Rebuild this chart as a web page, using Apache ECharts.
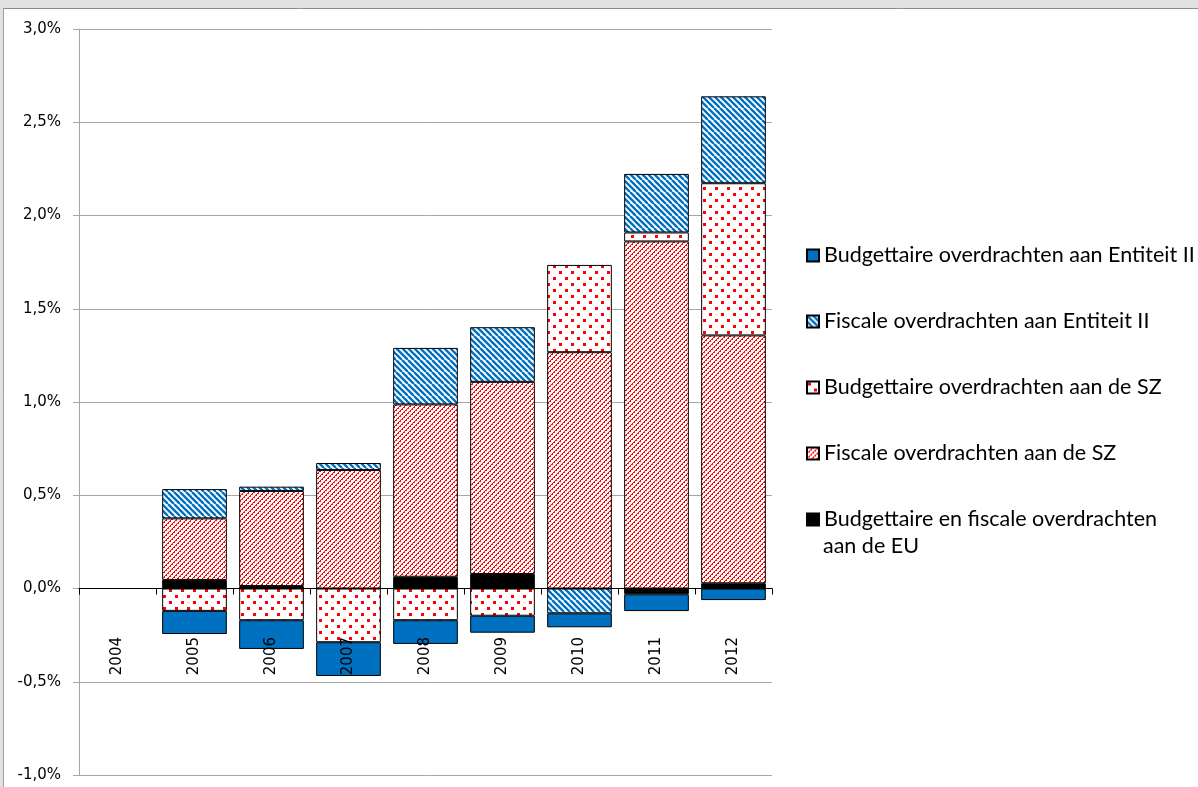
<!DOCTYPE html>
<html>
<head>
<meta charset="utf-8">
<script src="https://cdn.jsdelivr.net/npm/echarts@6/dist/echarts.min.js"></script>
<style>
html,body{margin:0;padding:0;background:#fff;}
#chart{width:1198px;height:787px;}
</style>
</head>
<body>
<div id="chart"></div>
<script>
// ---- data (% of GDP) ----
const years = ['2004','2005','2006','2007','2008','2009','2010','2011','2012'];
const euTransfers      = [null, 0.046, 0.013, null, 0.063, 0.078, null, -0.031, 0.028];
const fiscalSZ         = [null, 0.330, 0.510, 0.635, 0.924, 1.030, 1.267, 1.861, 1.329];
const budgetSZ         = [null, -0.120, -0.170, -0.288, -0.170, -0.146, 0.468, 0.048, 0.816];
const fiscalEntity2    = [null, 0.157, 0.023, 0.038, 0.303, 0.293, -0.133, 0.314, 0.466];
const budgetEntity2    = [null, -0.124, -0.154, -0.181, -0.127, -0.091, -0.075, -0.090, -0.062];
const yTicks = { min: -1, max: 3, interval: 0.5 };

const names = {
  eu: 'Budgettaire en fiscale overdrachten aan de EU',
  fsz: 'Fiscale overdrachten aan de SZ',
  bsz: 'Budgettaire overdrachten aan de SZ',
  fe2: 'Fiscale overdrachten aan Entiteit II',
  be2: 'Budgettaire overdrachten aan Entiteit II'
};

// ---- patterns ----
function tile(size, draw) {
  const c = document.createElement('canvas');
  c.width = size; c.height = size;
  const g = c.getContext('2d');
  g.fillStyle = '#fff'; g.fillRect(0, 0, size, size);
  draw(g, size);
  return { image: c, repeat: 'repeat' };
}
const redHatch = tile(10, (g, S) => {
  g.fillStyle = '#ff0000';
  for (let x = 0; x < S; x++) {
    for (let y = 0; y < S; y++) {
      const d = (x + y) % 5;
      if (d === 0 || (d === 1 && x % 2 === 0)) g.fillRect(x, y, 1, 1);
    }
  }
});
const redDots = tile(12, (g, S) => {
  g.fillStyle = '#ff0000';
  g.fillRect(1, 1, 3, 3);
  g.fillRect(7, 7, 3, 3);
});
const blueHatch = tile(12, (g, S) => {
  g.strokeStyle = '#0070c0'; g.lineWidth = 2.4;
  for (let x0 = -S; x0 <= S; x0 += 6) {
    g.beginPath(); g.moveTo(x0, 0); g.lineTo(x0 + S, S); g.stroke();
  }
});

const chart = echarts.init(document.getElementById('chart'));
const border = { borderColor: '#000', borderWidth: 1 };
function bar(name, data, color) {
  return {
    name, type: 'bar', stack: 'total', data,
    barCategoryGap: '16%',
    itemStyle: Object.assign({ color }, border),
    emphasis: { disabled: true }
  };
}

chart.setOption({
  animation: false,
  backgroundColor: '#fff',
  grid: { left: 79, right: 426, top: 29, bottom: 12, containLabel: false, outerBoundsMode: 'none' },
  xAxis: {
    type: 'category', data: years, z: 10,
    axisLine: { onZero: true, lineStyle: { color: '#000', width: 1 } },
    axisTick: { show: true, length: 6, lineStyle: { color: '#000' } },
    axisLabel: { rotate: 90, margin: -138, color: '#000', fontFamily: 'DejaVu Sans', fontSize: 15 }
  },
  yAxis: {
    type: 'value', min: yTicks.min, max: yTicks.max, interval: yTicks.interval,
    axisLine: { show: true, lineStyle: { color: '#a6a6a6' } },
    axisTick: { show: true, length: 6, lineStyle: { color: '#a6a6a6' } },
    splitLine: { show: true, lineStyle: { color: '#a6a6a6' } },
    axisLabel: {
      margin: 18, color: '#000', fontFamily: 'DejaVu Sans', fontSize: 15,
      formatter: v => v.toFixed(1).replace('.', ',') + '%'
    }
  },
  legend: {
    orient: 'vertical', left: 806, top: 244, padding: 0,
    itemWidth: 12, itemHeight: 12, itemGap: 43, selectedMode: false,
    icon: 'rect',
    textStyle: { fontFamily: 'Lato', fontSize: 21.5, lineHeight: 23, color: '#000' },
    data: [names.be2, names.fe2, names.bsz, names.fsz, names.eu],
    formatter: n => n === names.eu ? 'Budgettaire en fiscale overdrachten' : n
  },
  graphic: [
    { type: 'text', left: 823, top: 535, style: { text: 'aan de EU', font: '21.5px Lato', fill: '#000' } },
    { type: 'rect', shape: { x: 0, y: 0, width: 1198, height: 8 }, style: { fill: '#e1e1e1' } },
    { type: 'line', shape: { x1: 0, y1: 8.5, x2: 1198, y2: 8.5 }, style: { stroke: '#8c8c8c', lineWidth: 1 } },
    { type: 'rect', shape: { x: 0, y: 0, width: 3, height: 787 }, style: { fill: '#e1e1e1' } },
    { type: 'line', shape: { x1: 3.5, y1: 8, x2: 3.5, y2: 787 }, style: { stroke: '#a0a0a0', lineWidth: 1 } }
  ],
  series: [
    bar(names.eu, euTransfers, '#000'),
    bar(names.fsz, fiscalSZ, redHatch),
    bar(names.bsz, budgetSZ, redDots),
    bar(names.fe2, fiscalEntity2, blueHatch),
    bar(names.be2, budgetEntity2, '#0070c0')
  ]
});
</script>
</body>
</html>
